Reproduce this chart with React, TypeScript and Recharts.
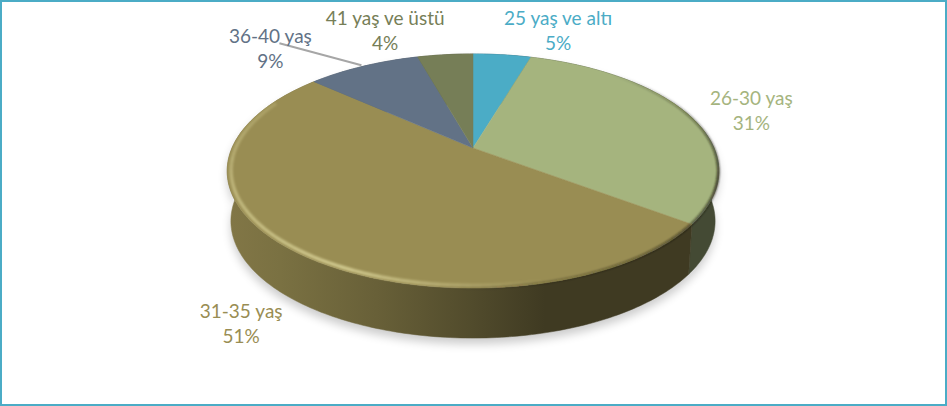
import { PieChart, Pie } from 'recharts';

const categories = ['25 yaş ve altı', '26-30 yaş', '31-35 yaş', '36-40 yaş', '41 yaş ve üstü'];
const shares = [4.6, 30.6, 51.4, 9, 4.4];
const percentLabels = ['5%', '31%', '51%', '9%', '4%'];
const colors = ['#4bacc6', '#a5b47e', '#998d53', '#627286', '#767e57'];

// label placement relative to the rim point of each slice
const labelOffsets = [[56, -25], [63, -5], [-52, 72], [-93, -18], [-60, -25]];
const leaderOffsets: (number[] | null)[] = [null, null, null, [-84, -23], null];

const data = categories.map((name, i) => ({ name, value: shares[i], fill: colors[i] }));

const TILT = 0.467; // vertical squash of the disc
const PERSPECTIVE = 0.1966; // far edge shrinks, near edge grows
const DEPTH = 50;
const FONT = 'Lato, sans-serif';

// disc angle -> screen point
function project(cx: number, cy: number, r: number, deg: number, scale = 1) {
    const rad = (deg * Math.PI) / 180;
    const u = Math.cos(rad) * scale;
    const v = -Math.sin(rad) * scale;
    const w = 1 - PERSPECTIVE * v;
    return { x: cx + (r * u) / w, y: cy + (r * TILT * v) / w };
}

function rimPoints(p: any, scale = 1, step = 1) {
    const pts = [];
    const n = Math.max(2, Math.ceil(Math.abs(p.endAngle - p.startAngle) / step));
    for (let i = 0; i <= n; i++) {
        pts.push(project(p.cx, p.cy, p.outerRadius, p.startAngle + ((p.endAngle - p.startAngle) * i) / n, scale));
    }
    return pts;
}

function toPath(pts: { x: number; y: number }[]) {
    return pts.map((q, i) => `${i ? 'L' : 'M'}${q.x.toFixed(2)} ${q.y.toFixed(2)}`).join(' ');
}

function wallPath(p: any) {
    const top = rimPoints(p);
    const bottom = top
        .map(q => ({ x: p.cx + (q.x - p.cx) * 0.985, y: q.y + DEPTH }))
        .reverse();
    return toPath(top.concat(bottom)) + ' Z';
}

function shade(hex: string, k: number) {
    const n = parseInt(hex.slice(1), 16);
    const c = [(n >> 16) & 255, (n >> 8) & 255, n & 255].map(v => Math.round(v * k));
    return `rgb(${c.join(',')})`;
}

const wallStops = [[0, 0.84], [0.1, 0.8], [0.3, 0.68], [0.5, 0.53], [0.65, 0.41], [1, 0.41]];

function ShadowShape(p: any) {
    return <path d={wallPath(p)} transform="translate(0 6)" fill="#000" opacity={0.2} filter="url(#softShadow)" />;
}

function WallShape(p: any) {
    const id = `wall-${p.index ?? p.name?.length}`;
    return (
        <g>
            <defs>
                <linearGradient id={id} gradientUnits="userSpaceOnUse" x1={p.cx - p.outerRadius} x2={p.cx + p.outerRadius} y1={0} y2={0}>
                    {wallStops.map(([o, k]) => (
                        <stop key={o} offset={o} stopColor={shade(p.fill, k)} />
                    ))}
                </linearGradient>
            </defs>
            <path d={wallPath(p)} fill={`url(#${id})`} stroke={`url(#${id})`} strokeWidth={0.5} />
        </g>
    );
}

const clockwise = (deg: number) => ((90 - deg) % 360 + 360) % 360;

// soft light band on the front-left of the rim
function highlight(deg: number) {
    const a = clockwise(deg);
    const t = a < 205 ? 1 - (205 - a) / 40 : 1 - ((a - 205) / 90) * 0.7;
    return { color: '#f4efb4', opacity: a > 295 ? 0 : 0.6 * Math.max(0, t) };
}

// the very edge turns into the wall on the right side only
function edge(deg: number) {
    const a = clockwise(deg);
    let t = 0;
    if (a > 40 && a <= 105) t = ((a - 40) / 65) * 0.85;
    else if (a > 105 && a <= 190) t = 0.85 - ((a - 105) / 85) * 0.85;
    return { color: '#1e1c10', opacity: Math.max(0, t) };
}

function BevelBand({ p, scale, width, tone }: any) {
    const pts = rimPoints(p, scale, 2);
    const total = p.endAngle - p.startAngle;
    return (
        <g filter="url(#softBevel)">
            {pts.slice(1).map((q: any, i: number) => {
                const b = tone(p.startAngle + (total * i) / (pts.length - 1));
                if (b.opacity <= 0) return null;
                return (
                    <line key={i} x1={pts[i].x} y1={pts[i].y} x2={q.x} y2={q.y}
                        stroke={b.color} strokeOpacity={b.opacity} strokeWidth={width} />
                );
            })}
        </g>
    );
}

function TopShape(p: any) {
    const rim = rimPoints(p);
    return (
        <g>
            <path d={toPath([{ x: p.cx, y: p.cy }, ...rim]) + ' Z'} fill={p.fill} stroke={p.fill} strokeWidth={0.5} />
            <BevelBand p={p} scale={0.985} width={3.5} tone={highlight} />
            <BevelBand p={p} scale={0.998} width={2.5} tone={edge} />
        </g>
    );
}

function renderLabel(p: any) {
    const i = p.index;
    const rim = project(p.cx, p.cy, p.outerRadius, p.midAngle);
    const [dx, dy] = labelOffsets[i];
    const leader = leaderOffsets[i];
    const x = rim.x + dx;
    const y = rim.y + dy;
    return (
        <g key={i}>
            {leader && (
                <line x1={rim.x - 2} y1={rim.y - 1} x2={rim.x + leader[0]} y2={rim.y + leader[1]} stroke="#a6a6a6" strokeWidth={2} />
            )}
            <text x={x} y={y - 12.5} textAnchor="middle" dominantBaseline="central" fill={colors[i]} fontFamily={FONT} fontSize={19}>
                {categories[i]}
            </text>
            <text x={x} y={y + 12.5} textAnchor="middle" dominantBaseline="central" fill={colors[i]} fontFamily={FONT} fontSize={19}>
                {percentLabels[i]}
            </text>
        </g>
    );
}

export default function App() {
    return (
        <div style={{ position: 'absolute', left: 0, top: 0, width: 947, height: 406, boxSizing: 'border-box', border: '2px solid #4bacc6', background: '#fff' }}>
            <div style={{ position: 'absolute', left: -2, top: -2 }}>
                <PieChart width={947} height={406} margin={{ top: 0, right: 0, bottom: 0, left: 0 }}>
                    <defs>
                        <filter id="softShadow" x="-20%" y="-20%" width="140%" height="140%">
                            <feGaussianBlur stdDeviation="5" />
                        </filter>
                        <filter id="softBevel" x="-20%" y="-20%" width="140%" height="140%">
                            <feGaussianBlur stdDeviation="1.1" />
                        </filter>
                    </defs>
                    <Pie data={data} dataKey="value" nameKey="name" cx={473} cy={148} outerRadius={241} startAngle={90} endAngle={-270}
                        stroke="none" isAnimationActive={false} shape={ShadowShape} label={false} labelLine={false} />
                    <Pie data={data} dataKey="value" nameKey="name" cx={473} cy={148} outerRadius={241} startAngle={90} endAngle={-270}
                        stroke="none" isAnimationActive={false} shape={WallShape} label={false} labelLine={false} />
                    <Pie data={data} dataKey="value" nameKey="name" cx={473} cy={148} outerRadius={241} startAngle={90} endAngle={-270}
                        stroke="none" isAnimationActive={false} shape={TopShape} label={renderLabel} labelLine={false} />
                </PieChart>
            </div>
        </div>
    );
}
